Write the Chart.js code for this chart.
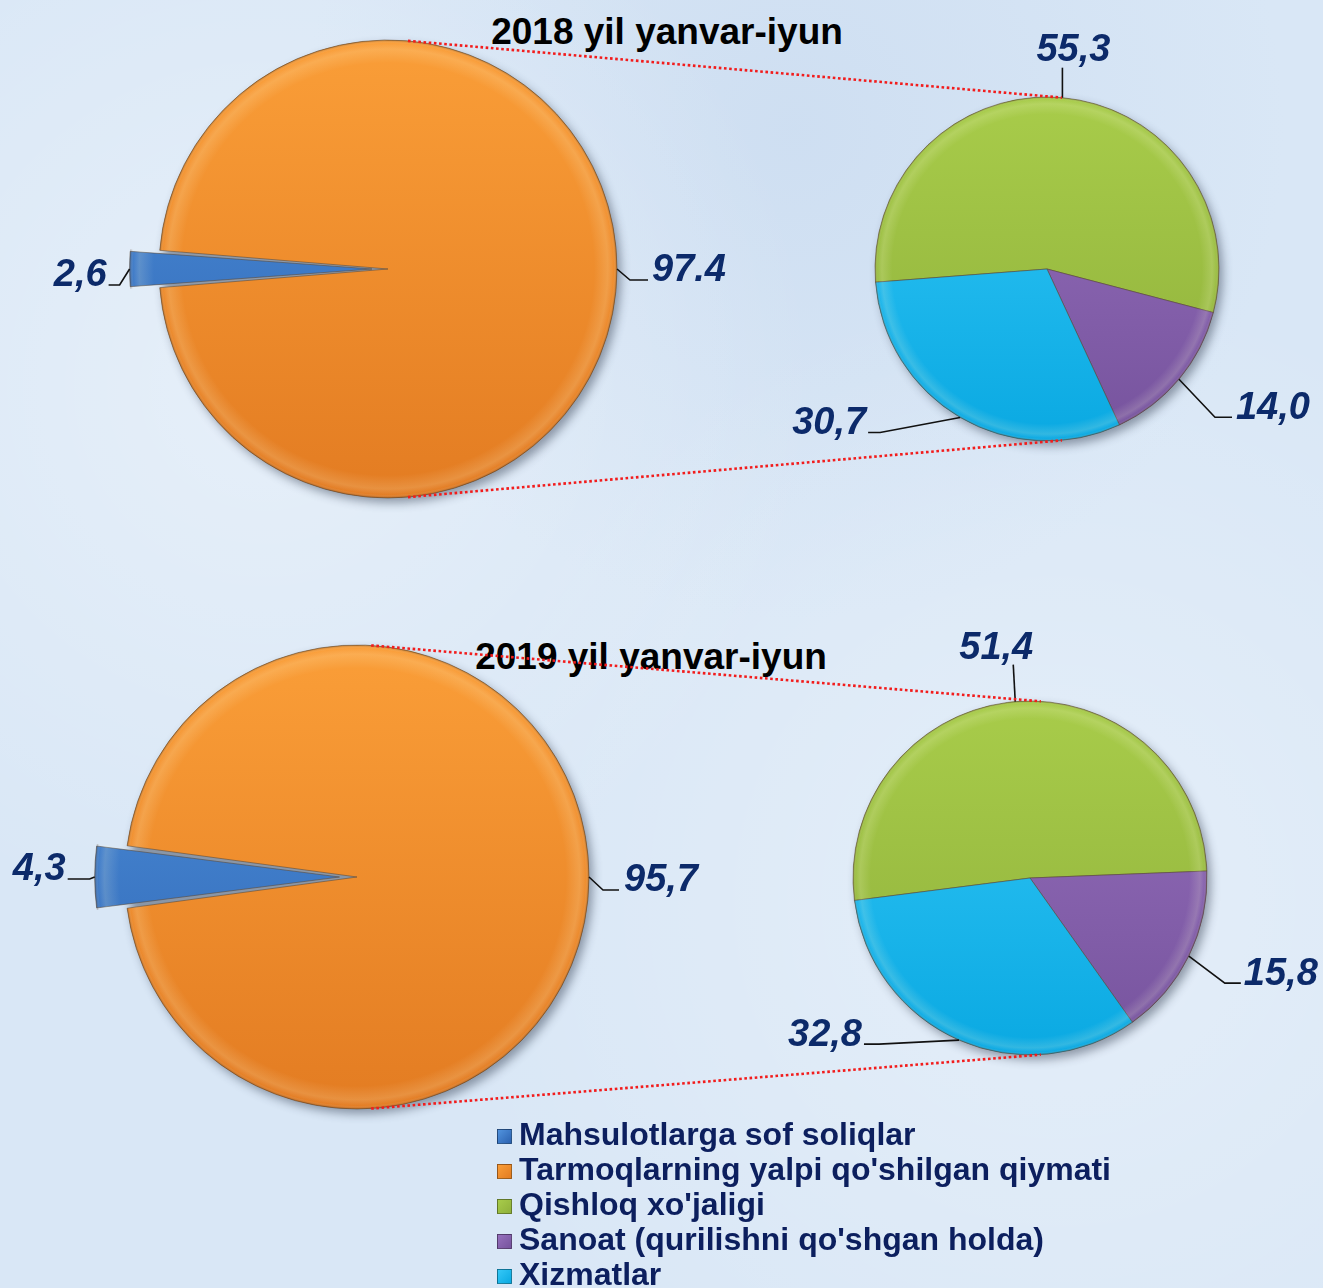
<!DOCTYPE html>
<html>
<head>
<meta charset="utf-8">
<script src="https://cdn.jsdelivr.net/npm/chart.js@4.4.1/dist/chart.umd.min.js"></script>
<style>
html, body { margin: 0; padding: 0; }
body {
    width: 1323px; height: 1288px; overflow: hidden; position: relative;
    font-family: "Liberation Sans", Arial, sans-serif;
    background-color: #d9e7f6;
    background-image:
        radial-gradient(circle at 20% 30%, rgba(255,255,255,0.35), rgba(255,255,255,0) 40%),
        radial-gradient(circle at 80% 70%, rgba(255,255,255,0.3), rgba(255,255,255,0) 45%),
        radial-gradient(circle at 60% 10%, rgba(190,210,235,0.4), rgba(190,210,235,0) 35%);
}
canvas { position: absolute; left: 0; top: 0; z-index: 1; }
.title {
    position: absolute; z-index: 0; font-weight: bold; font-size: 37px; line-height: 1;
    color: #000; white-space: nowrap; transform: translateX(-50%);
}
#legend {
    position: absolute; left: 497px; top: 1117px; z-index: 2;
    font-weight: bold; font-size: 32px; line-height: 35px; color: #0c1f5e; white-space: nowrap;
}
#legend .item { display: flex; align-items: center; height: 35px; }
#legend .box {
    width: 15px; height: 15px; margin: 4px 7px 0 0; box-sizing: border-box;
    border: 1px solid rgba(0,0,0,0.35);
}
</style>
</head>
<body>
<div class="title" id="title0" style="left:667px; top:13px;"></div>
<div class="title" id="title1" style="left:651px; top:638px;"></div>
<canvas id="big18" width="1323" height="1288"></canvas>
<canvas id="small18" width="1323" height="1288"></canvas>
<canvas id="big19" width="1323" height="1288"></canvas>
<canvas id="small19" width="1323" height="1288"></canvas>
<div id="legend"></div>
<script>
// data
const periods = ["2018 yil yanvar-iyun", "2019 yil yanvar-iyun"];
const sectorLabels = ["Mahsulotlarga sof soliqlar", "Tarmoqlarning yalpi qo'shilgan qiymati"];
const branchLabels = ["Qishloq xo'jaligi", "Sanoat (qurilishni qo'shgan holda)", "Xizmatlar"];
const sector2018 = [2.6, 97.4];
const sector2019 = [4.3, 95.7];
const branch2018 = [55.3, 14.0, 30.7];
const branch2019 = [51.4, 15.8, 32.8];
const sectorText2018 = ["2,6", "97.4"];
const sectorText2019 = ["4,3", "95,7"];
const branchText2018 = ["55,3", "14,0", "30,7"];
const branchText2019 = ["51,4", "15,8", "32,8"];

// colours: [top, bottom] of each slice
const sectorColors = [["#5193de", "#2b62b0"], ["#fa9e38", "#e37c22"]];
const branchColors = [["#a8cc4a", "#8fb03b"], ["#9670bd", "#76539d"], ["#35c8f7", "#0aa9e2"]];

const W = 1323, H = 1288;
const LABEL_FONT = 'italic bold 38px "Liberation Sans", Arial, sans-serif';
const LABEL_COLOR = "#0c2a6a";
const charts = {};

function shade(pairs) {
    return (c) => {
        const area = c.chart.chartArea;
        const pair = pairs[c.dataIndex];
        if (!area) return pair[0];
        const g = c.chart.ctx.createLinearGradient(0, area.top, 0, area.bottom);
        g.addColorStop(0, pair[0]);
        g.addColorStop(1, pair[1]);
        return g;
    };
}

// same geometry Chart.js uses when it draws an offset arc
function arcGeom(a) {
    const mid = (a.startAngle + a.endAngle) / 2;
    const off = (a.options.offset || 0) / 4;
    const fix = 1 - Math.sin(Math.min(Math.PI, a.endAngle - a.startAngle));
    const tx = a.x + Math.cos(mid) * off;
    const ty = a.y + Math.sin(mid) * off;
    return { tx, ty, R: a.outerRadius + off * fix, mid };
}

const pieLook = {
    id: "pieLook",
    beforeDatasetsDraw(chart) {
        const a = chart.getDatasetMeta(0).data[0];
        const ctx = chart.ctx;
        ctx.save();
        ctx.shadowColor = "rgba(40,50,70,0.45)";
        ctx.shadowBlur = 10;
        ctx.shadowOffsetX = 5000 + 4;
        ctx.shadowOffsetY = 5;
        ctx.beginPath();
        ctx.arc(a.x - 5000, a.y, a.outerRadius, 0, Math.PI * 2);
        ctx.fillStyle = "#000";
        ctx.fill();
        ctx.restore();
    },
    afterDatasetsDraw(chart, args, opts) {
        const ctx = chart.ctx;
        const arcs = chart.getDatasetMeta(0).data;
        // bevel along the rim
        arcs.forEach(a => {
            const p = arcGeom(a);
            ctx.save();
            ctx.beginPath();
            ctx.moveTo(p.tx, p.ty);
            ctx.arc(p.tx, p.ty, p.R, a.startAngle, a.endAngle);
            ctx.closePath();
            const g = ctx.createRadialGradient(p.tx, p.ty, p.R * 0.9, p.tx, p.ty, p.R);
            g.addColorStop(0, "rgba(255,255,230,0)");
            g.addColorStop(0.6, "rgba(255,255,220,0.16)");
            g.addColorStop(0.85, "rgba(255,255,255,0.02)");
            g.addColorStop(1, "rgba(60,30,0,0.3)");
            ctx.fillStyle = g;
            ctx.fill();
            ctx.restore();
        });
        // data labels with leader lines
        const texts = opts.texts || [];
        const lay = opts.layout || [];
        arcs.forEach((a, i) => {
            const L = lay[i];
            if (!L) return;
            const p = arcGeom(a);
            const ax = p.tx + Math.cos(p.mid) * p.R, ay = p.ty + Math.sin(p.mid) * p.R;
            const bx = ax + L.ex, by = ay + L.ey;
            const cx = bx + L.h, cy = by;
            ctx.save();
            ctx.strokeStyle = "#111";
            ctx.lineWidth = 1.6;
            ctx.beginPath();
            ctx.moveTo(ax, ay);
            ctx.lineTo(bx, by);
            ctx.lineTo(cx, cy);
            ctx.stroke();
            ctx.font = LABEL_FONT;
            ctx.fillStyle = LABEL_COLOR;
            ctx.textAlign = L.align;
            ctx.textBaseline = "alphabetic";
            ctx.fillText(texts[i], cx + L.tx, cy + L.ty);
            ctx.restore();
        });
        // dotted connectors to the partner pie
        if (opts.partner && charts[opts.partner]) {
            const big = charts[opts.partner].getDatasetMeta(0).data[0];
            const own = arcs[0];
            const t = opts.angle * Math.PI / 180;
            ctx.save();
            ctx.strokeStyle = "#f21c1c";
            ctx.lineWidth = 2.6;
            ctx.setLineDash([2.6, 2.6]);
            [t, Math.PI - t].forEach(ang => {
                ctx.beginPath();
                ctx.moveTo(big.x + big.outerRadius * Math.sin(ang), big.y - big.outerRadius * Math.cos(ang));
                ctx.lineTo(own.x + own.outerRadius * Math.sin(ang), own.y - own.outerRadius * Math.cos(ang));
                ctx.stroke();
            });
            ctx.restore();
        }
    }
};

function makePie(id, labels, values, colors, geo, rotation, offsets, look) {
    charts[id] = new Chart(document.getElementById(id), {
        type: "pie",
        data: {
            labels: labels,
            datasets: [{
                data: values,
                backgroundColor: shade(colors),
                borderColor: "rgba(90,70,50,0.55)",
                borderWidth: 1,
                offset: offsets
            }]
        },
        options: {
            responsive: false,
            animation: false,
            radius: geo.r,
            rotation: rotation,
            layout: {
                padding: {
                    left: geo.cx - geo.r, right: W - geo.cx - geo.r,
                    top: geo.cy - geo.r, bottom: H - geo.cy - geo.r
                }
            },
            plugins: {
                legend: { display: false },
                tooltip: { enabled: false },
                pieLook: look
            }
        },
        plugins: [pieLook]
    });
}

// the small slice points straight to the left
const leftRotation = (vals) => 270 - vals[0] / vals.reduce((s, v) => s + v, 0) * 180;

makePie("big18", sectorLabels, sector2018, sectorColors,
    { cx: 388, cy: 269, r: 229 }, leftRotation(sector2018), [64, 0], {
        texts: sectorText2018,
        layout: [
            { ex: -10, ey: 16, h: -11, tx: -2, ty: 1, align: "right" },
            { ex: 13, ey: 11, h: 18, tx: 4, ty: 1, align: "left" }
        ]
    });
makePie("small18", branchLabels, branch2018, branchColors,
    { cx: 1047, cy: 269, r: 172 }, 265.6, [0, 0, 0], {
        texts: branchText2018,
        partner: "big18", angle: 5,
        layout: [
            { ex: 0, ey: -30, h: 0, tx: 11, ty: -7, align: "center" },
            { ex: 36, ey: 38, h: 17, tx: 4, ty: 2, align: "left" },
            { ex: -80, ey: 15, h: -12, tx: -2, ty: 2, align: "right" }
        ]
    });
makePie("big19", sectorLabels, sector2019, sectorColors,
    { cx: 357, cy: 877, r: 232 }, leftRotation(sector2019), [70, 0], {
        texts: sectorText2019,
        layout: [
            { ex: -5, ey: 2, h: -22, tx: -2, ty: 1, align: "right" },
            { ex: 14, ey: 13, h: 16, tx: 5, ty: 1, align: "left" }
        ]
    });
makePie("small19", branchLabels, branch2019, branchColors,
    { cx: 1030, cy: 878, r: 177 }, 262.7, [0, 0, 0], {
        texts: branchText2019,
        partner: "big19", angle: 3.5,
        layout: [
            { ex: -2, ey: -37, h: 0, tx: -17, ty: -6, align: "center" },
            { ex: 36, ey: 27, h: 16, tx: 3, ty: 2, align: "left" },
            { ex: -80, ey: 4, h: -15, tx: -2, ty: 2, align: "right" }
        ]
    });

document.getElementById("title0").textContent = periods[0];
document.getElementById("title1").textContent = periods[1];

// combined legend of both pies
const legend = document.getElementById("legend");
sectorLabels.concat(branchLabels).forEach((name, i) => {
    const pair = sectorColors.concat(branchColors)[i];
    const item = document.createElement("div");
    item.className = "item";
    const box = document.createElement("span");
    box.className = "box";
    box.style.background = `linear-gradient(135deg, ${pair[0]}, ${pair[1]})`;
    const txt = document.createElement("span");
    txt.textContent = name;
    item.appendChild(box);
    item.appendChild(txt);
    legend.appendChild(item);
});
</script>
</body>
</html>
